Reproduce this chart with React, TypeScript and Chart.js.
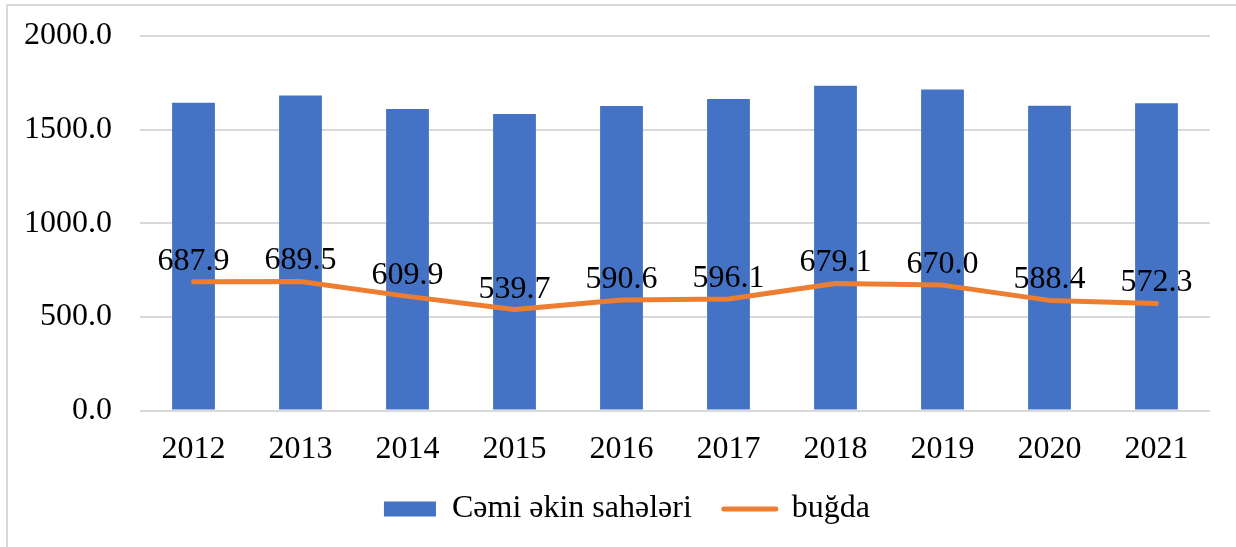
import React, { useEffect, useRef } from "react";
import { Chart, registerables } from "chart.js";

Chart.register(...registerables);

const years = ["2012", "2013", "2014", "2015", "2016", "2017", "2018", "2019", "2020", "2021"];
const totalArea = [1644, 1682, 1610, 1584, 1626, 1664, 1735, 1715, 1628, 1641];
const wheat = [687.9, 689.5, 609.9, 539.7, 590.6, 596.1, 679.1, 670.0, 588.4, 572.3];
const seriesNames = ["Cəmi əkin sahələri", "buğda"];
const yTicks = [0, 500, 1000, 1500, 2000];

const FONT_FAMILY = "'Liberation Serif', 'Times New Roman', serif";
const FONT_SIZE = 32;
const LEGEND_PAD = 32;

const labelPlugin = {
  id: "lineLabels",
  afterDatasetsDraw(chart: any) {
    const meta = chart.getDatasetMeta(1);
    const ctx = chart.ctx;
    ctx.save();
    ctx.font = `${FONT_SIZE}px ${FONT_FAMILY}`;
    ctx.fillStyle = "#000";
    ctx.textAlign = "center";
    ctx.textBaseline = "alphabetic";
    meta.data.forEach((pt: any, i: number) => {
      ctx.fillText(wheat[i].toFixed(1), pt.x, pt.y - 12);
    });
    ctx.restore();
  },
};

export default function App() {
  const ref = useRef<HTMLCanvasElement>(null);
  useEffect(() => {
    if (!ref.current) return;
    const defaultGen = (Chart.defaults.plugins.legend.labels as any).generateLabels;
    const chart = new Chart(ref.current, {
      type: "bar",
      data: {
        labels: years,
        datasets: [
          {
            type: "bar",
            label: seriesNames[0],
            data: totalArea,
            backgroundColor: "#4472C4",
            borderWidth: 0,
            barPercentage: 0.4,
            categoryPercentage: 1,
            order: 1,
          },
          {
            type: "line",
            label: seriesNames[1],
            data: wheat,
            borderColor: "#ED7D31",
            backgroundColor: "#ED7D31",
            borderWidth: 5,
            pointRadius: 0,
            tension: 0,
            borderCapStyle: "round",
            borderJoinStyle: "round",
            order: 0,
          } as any,
        ],
      },
      options: {
        animation: false,
        responsive: false,
        layout: { padding: { top: 36, right: 2, bottom: 12, left: 20 } },
        scales: {
          x: {
            grid: { display: false },
            border: { display: false },
            afterFit: (scale: any) => {
              scale.height -= 20;
              scale._computeLabelArea = () => undefined;
            },
            ticks: {
              font: { family: FONT_FAMILY, size: FONT_SIZE },
              color: "#000",
              padding: 12,
            },
          },
          y: {
            min: 0,
            max: 2000,
            afterBuildTicks: (scale: any) => {
              scale.ticks = yTicks.map((v) => ({ value: v }));
            },
            afterFit: (scale: any) => {
              scale.width = 120;
            },
            ticks: {
              font: { family: FONT_FAMILY, size: FONT_SIZE },
              color: "#000",
              padding: 0,
              callback: (v: any) => Number(v).toFixed(1),
            },
            grid: {
              color: "#d9d9d9",
              lineWidth: 2,
              drawTicks: true,
              tickLength: 28,
              tickColor: "rgba(0,0,0,0)",
            },
            border: { display: false },
          },
          yRight: {
            position: "right",
            display: true,
            grid: { display: false, drawTicks: false },
            border: { display: false },
            ticks: { display: false },
            afterFit: (scale: any) => {
              scale.width = 24;
            },
          },
        },
        plugins: {
          legend: {
            position: "bottom",
            labels: {
              usePointStyle: true,
              pointStyleWidth: 52,
              boxHeight: 15,
              padding: LEGEND_PAD,
              color: "#000",
              font: { family: FONT_FAMILY, size: FONT_SIZE },
              generateLabels: (c: any) =>
                defaultGen(c).map((it: any) =>
                  it.datasetIndex === 0
                    ? { ...it, pointStyle: "rect", lineWidth: 0 }
                    : { ...it, pointStyle: "line", lineWidth: 5, lineCap: "round", strokeStyle: "#ED7D31" }
                ),
              sort: (a: any, b: any) => a.datasetIndex - b.datasetIndex,
            },
          },
          tooltip: { enabled: false },
        },
      } as any,
      plugins: [labelPlugin],
    });
    return () => chart.destroy();
  }, []);

  return (
    <>
      <div
        style={{
          position: "fixed",
          left: 6,
          top: 4,
          width: 1300,
          height: 600,
          border: "2px solid #d9d9d9",
          background: "#fff",
        }}
      />
      <canvas
        ref={ref}
        width={1236}
        height={547}
        style={{ position: "fixed", left: 0, top: 0, display: "block", width: 1236, height: 547 }}
      />
    </>
  );
}
